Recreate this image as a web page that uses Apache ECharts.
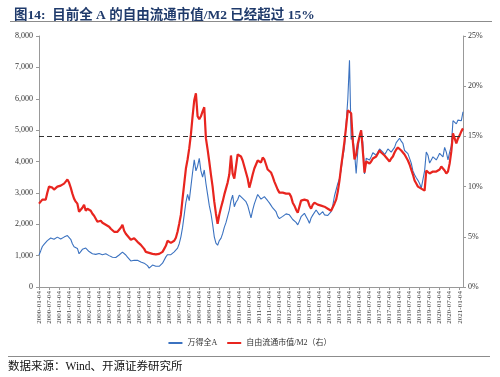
<!DOCTYPE html>
<html>
<head>
<meta charset="utf-8">
<script src="https://cdn.jsdelivr.net/npm/echarts@6/dist/echarts.min.js"></script>
<style>
  html, body { margin: 0; padding: 0; background: #fff; }
  #chart { width: 500px; height: 377px; }
</style>
</head>
<body>
<div id="chart"></div>
<script>
// monthly points, 2000-01 .. 2021-03
var startYear = 2000;
var monthCount = 255;

// 万得全A (left axis)
var windAllA = [
  1020, 1150, 1290, 1360, 1400, 1480, 1520, 1560, 1590, 1520, 1540, 1590,
  1540, 1530, 1570, 1590, 1620, 1640, 1600, 1520, 1380, 1285, 1280, 1230,
  1060, 1130, 1200, 1220, 1240, 1200, 1130, 1075, 1060, 1020, 1040, 1060,
  1070, 1050, 1030, 1040, 1060, 1030, 1000, 970, 950, 920, 940, 990,
  1020, 1060, 1110, 1140, 1020, 950, 900, 830, 820, 850, 840, 850,
  850, 800, 780, 760, 720, 680, 600, 650, 700, 680, 660, 650,
  660, 700, 760, 820, 960, 1030, 1010, 1030, 1080, 1120, 1180, 1240,
  1380, 1600, 1900, 2300, 2700, 2950, 2750, 3200, 3650, 4050, 3700, 3850,
  4100, 3700, 3500, 3730, 3300, 2950, 2600, 2350, 2000, 1600, 1400, 1330,
  1480, 1550, 1700, 1900, 2050, 2250, 2450, 2750, 2930, 2560, 2700, 2780,
  2930, 2880, 2825, 2780, 2720, 2600, 2400, 2200, 2450, 2650, 2800, 2950,
  2950, 2800, 2780, 2880, 2880, 2750, 2680, 2600, 2520, 2540, 2400, 2250,
  2180, 2135, 2250, 2300, 2330, 2350, 2300, 2240, 2150, 2140, 2060, 1980,
  2100, 2240, 2300, 2350, 2250, 2150, 2030, 2200, 2290, 2350, 2455, 2400,
  2300, 2350, 2400, 2300, 2240, 2280, 2295, 2400, 2600, 2900, 3100, 3300,
  3450, 3730, 4150, 4450, 5215, 6000, 7230, 4700, 4800, 4300, 3620, 4350,
  4800, 5000, 4600, 3600, 4100, 4150, 4050, 4150, 4280, 4300, 4200, 4300,
  4400, 4350, 4300, 4220, 4300, 4400, 4380, 4300, 4320, 4450, 4600, 4550,
  4740, 4650, 4580, 4350, 4300, 4250, 4100, 3950, 3700, 3580, 3480, 3400,
  3300, 3150, 3200, 3700, 4300, 4200, 3950, 4050, 4150, 4100, 4050, 4150,
  4260, 4200, 4150, 4450, 4300, 4050, 4300, 4500, 5300, 5300, 5200, 5320,
  5300, 5300, 5585
];

// 自由流通市值/M2 (right axis, %)
var freeFloatM2 = [
  8.3, 8.4, 8.7, 8.7, 8.7, 9.4, 10.0, 10.1, 9.9, 9.7, 9.8, 10.0,
  10.1, 10.1, 10.2, 10.3, 10.5, 10.7, 10.4, 9.9, 9.3, 8.8, 8.5, 8.3,
  7.5, 7.7, 7.9, 8.2, 7.6, 7.8, 7.9, 7.6, 7.3, 7.1, 6.8, 6.5,
  6.4, 6.6, 6.4, 6.3, 6.2, 6.1, 6.0, 5.8, 5.7, 5.5, 5.35, 5.5,
  5.6, 5.9, 6.2, 5.6, 5.3, 5.1, 4.9, 4.7, 4.8, 4.85, 4.7, 4.5,
  4.4, 4.2, 4.0, 3.8, 3.5, 3.35, 3.4, 3.35, 3.3, 3.3, 3.25, 3.2,
  3.3, 3.4, 3.5, 3.8, 4.1, 4.6, 4.6, 4.4, 4.4, 4.6, 4.9, 5.5,
  6.3, 7.2, 8.8, 10.3, 11.8, 12.7, 13.8, 15.2, 17.0, 18.6, 19.3, 17.0,
  16.7, 17.0, 17.5, 17.9, 14.8, 13.7, 12.5, 11.2, 10.0, 8.5, 7.3, 6.3,
  7.2, 7.9, 8.5, 9.2, 9.8, 10.4, 11.2, 13.1, 11.3, 10.8, 12.0, 13.2,
  13.3, 13.0, 12.6, 12.0, 11.4, 10.8, 9.9, 10.5, 11.2, 11.8, 12.2, 12.6,
  12.6, 12.4, 12.9, 12.7, 12.2, 11.7, 11.6, 11.4, 11.0, 10.5, 10.1, 9.7,
  9.4, 9.3, 9.4, 9.4, 9.3, 9.4, 9.3, 9.0, 8.4, 8.1, 7.7, 7.4,
  7.4, 8.6, 8.7, 8.7, 8.6, 8.6, 8.1, 7.8, 8.2, 8.4, 8.3, 8.2,
  8.2, 8.1, 8.1, 8.0, 7.9, 7.8, 7.7, 7.6, 7.7, 8.3, 8.7, 9.5,
  10.6, 12.0, 13.2, 14.5, 16.0, 17.6, 17.7, 17.3, 14.5, 12.7, 13.2, 14.3,
  15.0, 15.6, 13.5, 11.4, 12.5, 12.6, 12.3, 12.5, 12.8, 12.9, 13.0, 13.3,
  13.6, 13.4, 13.3, 13.1, 12.9, 12.7, 12.5, 12.8, 13.0, 13.4, 13.7, 13.9,
  13.8, 13.6, 13.5, 13.2, 12.9, 12.6, 12.2, 11.7, 11.2, 10.6, 10.3, 10.0,
  9.9, 9.8, 9.7, 9.6, 11.6, 11.5, 11.3, 11.4, 11.5, 11.5, 11.5, 11.5,
  11.7, 12.0, 11.8, 11.6, 11.3, 11.5, 12.3, 13.5, 15.3, 14.8, 14.3, 14.8,
  15.1, 15.5, 15.8
];

var thresholdPct = 15;

var dates = [];
for (var i = 0; i < monthCount; i++) {
  var y = startYear + Math.floor(i / 12);
  var m = (i % 12) + 1;
  dates.push(y + "-" + (m < 10 ? "0" + m : m) + "-04");
}

var serif = "'Liberation Serif', 'Times New Roman', 'Noto Sans CJK SC', serif";
var cjk = "'Liberation Serif', 'Noto Sans CJK SC', sans-serif";

var chart = echarts.init(document.getElementById("chart"), null, { renderer: "canvas" });

var option = {
  animation: false,
  title: {
    text: "图14:  目前全 A 的自由流通市值/M2 已经超过 15%",
    left: 9,
    top: 4,
    textStyle: {
      fontFamily: cjk,
      fontSize: 13.5,
      fontWeight: "bold",
      color: "#1F3A6B",
    },
  },
  graphic: [
    {
      type: "line",
      shape: { x1: 10, y1: 21.5, x2: 492, y2: 21.5 },
      style: { stroke: "#8c8c8c", lineWidth: 1.2 },
    },
    {
      type: "line",
      shape: { x1: 8, y1: 356.5, x2: 490, y2: 356.5 },
      style: { stroke: "#8c8c8c", lineWidth: 1.2 },
    },
    {
      type: "text",
      left: 8,
      top: 361,
      style: {
        text: "数据来源：Wind、开源证券研究所",
        font: "11.5px " + cjk,
        fill: "#111",
      },
    },
  ],
  legend: {
    top: 334,
    left: "center",
    itemGap: 10,
    itemWidth: 14,
    itemHeight: 2,
    textStyle: { fontFamily: cjk, fontSize: 8, color: "#333" },
    data: [
      { name: "万得全A", icon: "rect" },
      { name: "自由流通市值/M2（右）", icon: "rect" },
    ],
  },
  grid: {
    left: 39,
    right: 37,
    top: 36,
    bottom: 90,
    containLabel: false,
  },
  xAxis: {
    type: "category",
    data: dates,
    boundaryGap: false,
    axisLine: { lineStyle: { color: "#999", width: 1 } },
    axisTick: { interval: 5, length: 3, lineStyle: { color: "#999" } },
    axisLabel: {
      interval: 5,
      rotate: 90,
      fontFamily: serif,
      fontSize: 7,
      color: "#444",
      margin: 4,
    },
    splitLine: { show: false },
  },
  yAxis: [
    {
      type: "value",
      min: 0,
      max: 8000,
      interval: 1000,
      axisLine: { show: true, lineStyle: { color: "#999" } },
      axisTick: { show: true, length: 3, lineStyle: { color: "#999" } },
      axisLabel: { fontFamily: serif, fontSize: 8, color: "#333", margin: 6 },
      splitLine: { show: false },
    },
    {
      type: "value",
      min: 0,
      max: 25,
      interval: 5,
      axisLine: { show: true, lineStyle: { color: "#999" } },
      axisTick: { show: true, length: 3, lineStyle: { color: "#999" } },
      axisLabel: {
        fontFamily: serif,
        fontSize: 8,
        color: "#333",
        margin: 5,
        formatter: "{value}%",
      },
      splitLine: { show: false },
    },
  ],
  series: [
    {
      name: "万得全A",
      type: "line",
      data: windAllA,
      yAxisIndex: 0,
      showSymbol: false,
      color: "#3B72C0",
      lineStyle: { width: 1.1, color: "#3B72C0" },
      z: 2,
    },
    {
      name: "自由流通市值/M2（右）",
      type: "line",
      data: freeFloatM2,
      yAxisIndex: 1,
      showSymbol: false,
      color: "#E8251F",
      lineStyle: { width: 2.2, color: "#E8251F" },
      z: 3,
      markLine: {
        silent: true,
        symbol: "none",
        label: { show: false },
        lineStyle: { color: "#333", type: [5, 3], width: 1 },
        data: [{ yAxis: thresholdPct }],
      },
    },
  ],
};

chart.setOption(option);
</script>
</body>
</html>
